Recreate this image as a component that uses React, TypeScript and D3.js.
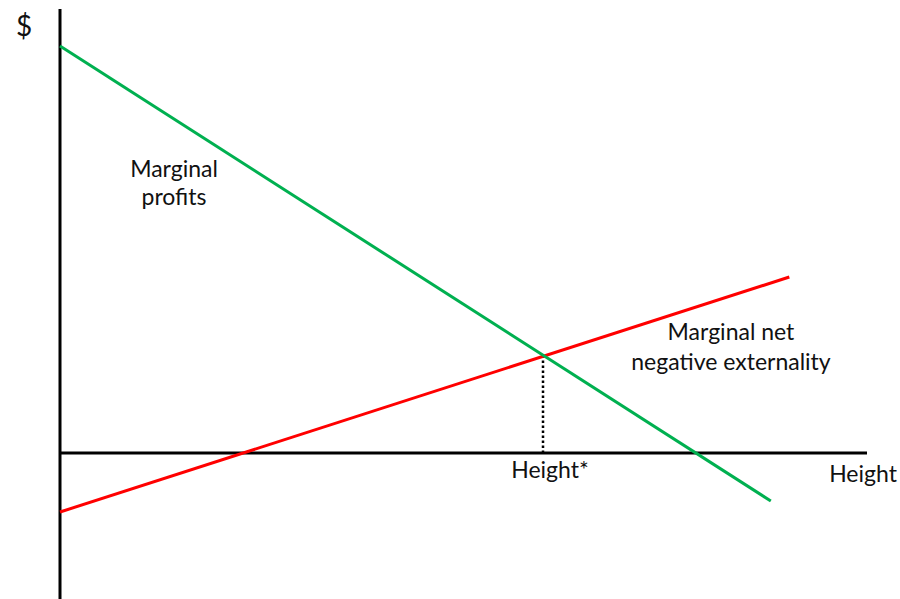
import React from "react";
import * as d3 from "d3";

const profitsX = [0, 88.3];
const profitsY = [101.75, -12];
const externalityX = [0, 90.6];
const externalityY = [-14.75, 44];
const optimumX = [60];
const optimumY = [24.4];

const W = 900;
const H = 599;

export default function App() {
  const x = d3.scaleLinear().domain([0, 100]).range([60, 865]);
  const y = d3.scaleLinear().domain([0, 100]).range([453, 53]);
  const line = d3
    .line<[number, number]>()
    .x((d) => x(d[0]))
    .y((d) => y(d[1]));
  const green = profitsX.map((v, i) => [v, profitsY[i]] as [number, number]);
  const red = externalityX.map((v, i) => [v, externalityY[i]] as [number, number]);
  const font = "Lato, 'Open Sans', sans-serif";
  const tc = "#111";
  return (
    <svg
      width={W}
      height={H}
      style={{ position: "absolute", left: 0, top: 0, background: "#fff" }}
      fontFamily={font}
    >
      <line x1={x(0)} x2={x(0)} y1={9} y2={H} stroke="#000" strokeWidth={3} />
      <line x1={x(0)} x2={867} y1={y(0)} y2={y(0)} stroke="#000" strokeWidth={3} />
      <line
        x1={x(optimumX[0])}
        x2={x(optimumX[0])}
        y1={y(optimumY[0])}
        y2={y(0)}
        stroke="#000"
        strokeWidth={2.5}
        strokeDasharray="2.5 2.5"
      />
      <path d={line(red) || ""} stroke="#ff0000" strokeWidth={3} fill="none" />
      <path d={line(green) || ""} stroke="#00b050" strokeWidth={3} fill="none" />
      <text x={16} y={36} fontSize={28} fill={tc}>$</text>
      <text x={174} y={177} fontSize={23} textAnchor="middle" fill={tc}>Marginal</text>
      <text x={174} y={205} fontSize={23} textAnchor="middle" fill={tc}>profits</text>
      <text x={731} y={340} fontSize={23} textAnchor="middle" fill={tc}>Marginal net</text>
      <text x={731} y={370} fontSize={23} textAnchor="middle" fill={tc}>negative externality</text>
      <text x={550} y={478} fontSize={23} textAnchor="middle" fill={tc}>Height*</text>
      <text x={863} y={482} fontSize={23} textAnchor="middle" fill={tc}>Height</text>
    </svg>
  );
}
